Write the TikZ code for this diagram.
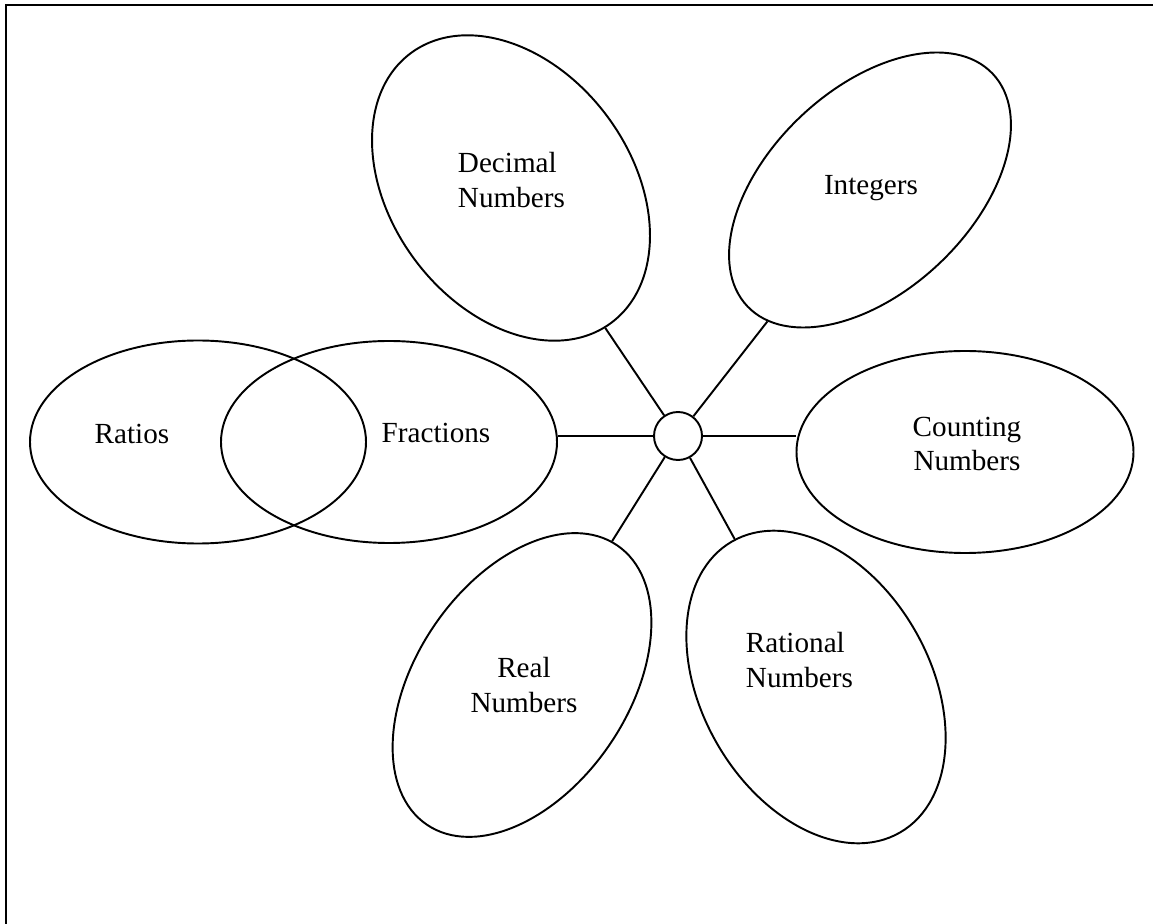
\documentclass[tikz,border=0pt]{standalone}
\usepackage{fontspec}
\setmainfont{Liberation Serif}
\usepackage{tikz}
\usetikzlibrary{shapes,positioning,calc}
\tikzstyle{blob}=[ellipse, draw=black, inner sep=0pt]
\tikzstyle{hub}=[circle, draw=black, minimum size=9.6mm, inner sep=0pt]
\tikzstyle{lbl}=[font=\fontsize{16.6}{19.5}\selectfont, inner sep=0pt, align=center]

\begin{document}
\begin{tikzpicture}[x=0.2mm,y=-0.2mm,line width=1.1pt]
		\useasboundingbox (0,0) rectangle (1153,924);
		\draw (6,924)--(6,5)--(1153,5);
		
		\node[hub] (O)at(678,436){};
		\node[blob, minimum width=48mm, minimum height=67.2mm, rotate=36.6] (D)at(511,188){};
		\node[blob, minimum width=67.6mm, minimum height=40.4mm, rotate=43.5] (I)at(870,190){};
		\node[blob, minimum width=67.4mm, minimum height=40.4mm] (C)at(965,452){};
		\node[blob, minimum width=45.6mm, minimum height=67.2mm, rotate=30] (Q)at(816,687){};
		\node[blob, minimum width=42.4mm, minimum height=67.6mm, rotate=-34.3] (R)at(522,685){};
		\node[blob, minimum width=67.2mm, minimum height=40.4mm] (F)at(389,442){};
		\node[blob, minimum width=67.2mm, minimum height=40.6mm] (T)at(198,442){};
		
		\node[lbl, align=left, anchor=west] at(457,180){Decimal\\Numbers};
		\node[lbl] at(871,188){Integers};
		\node[lbl] at(967,444){Counting\\Numbers};
		\node[lbl, align=left, anchor=west] at(745,660){Rational\\Numbers};
		\node[lbl] at(524,685){Real\\Numbers};
		\node[lbl] at(436,433){Fractions};
		\node[lbl] at(132,434){Ratios};
		
	\draw (O)--(D);
	\draw (O)--(I);
	\draw (O)--(O-|C.west);
	\draw (O)--(Q);
	\draw (O)--(R);
	\draw (O)--(O-|F.east);
\end{tikzpicture}
\end{document}
